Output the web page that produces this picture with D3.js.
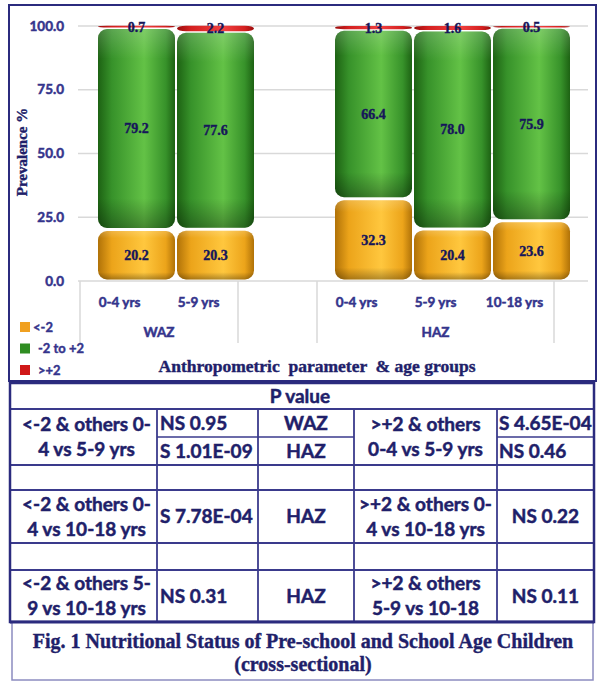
<!DOCTYPE html>
<html>
<head>
<meta charset="utf-8">
<script src="https://cdn.jsdelivr.net/npm/d3@7"></script>
<style>
  body { margin: 0; background: #fff; }
  svg { display: block; }
</style>
</head>
<body>
<div id="chart"></div>
<script>
// chart data
var categories = ["0-4 yrs", "5-9 yrs", "0-4 yrs", "5-9 yrs", "10-18 yrs"];
var groupOf = ["WAZ", "WAZ", "HAZ", "HAZ", "HAZ"];
var below2 = [20.2, 20.3, 32.3, 20.4, 23.6];
var normal = [79.2, 77.6, 66.4, 78.0, 75.9];
var above2 = [0.7, 2.2, 1.3, 1.6, 0.5];
var seriesNames = ["<-2", "-2 to +2", ">+2"];
var yTicks = [0, 25, 50, 75, 100];

// p value table
var compLeft = [["<-2 & others 0-", "4 vs 5-9 yrs"], ["<-2 & others 0-", "4 vs 10-18 yrs"], ["<-2 & others 5-", "9 vs 10-18 yrs"]];
var pLeft = [["NS 0.95", "S 1.01E-09"], ["S 7.78E-04"], ["NS 0.31"]];
var paramCol = [["WAZ", "HAZ"], ["HAZ"], ["HAZ"]];
var compRight = [[">+2 & others", "0-4 vs 5-9 yrs"], [">+2 & others 0-", "4 vs 10-18 yrs"], [">+2 & others", "5-9 vs 10-18"]];
var pRight = [["S 4.65E-04", "NS 0.46"], ["NS 0.22"], ["NS 0.11"]];

var W = 603, H = 682;
var navy = "#2b2b7e", textNavy = "#1f1f6a";
var sans = "Lato, 'Open Sans', sans-serif";
var serif = "'Liberation Serif', 'DejaVu Serif', serif";

var svg = d3.select("#chart").append("svg")
    .attr("width", W).attr("height", H);

// gradients for cylinder look
var defs = svg.append("defs");
function cyl(id, dark, mid, light) {
  var g = defs.append("linearGradient").attr("id", id)
      .attr("x1", "0%").attr("x2", "100%").attr("y1", "0%").attr("y2", "0%");
  g.append("stop").attr("offset", "0%").attr("stop-color", dark);
  g.append("stop").attr("offset", "18%").attr("stop-color", mid);
  g.append("stop").attr("offset", "60%").attr("stop-color", light);
  g.append("stop").attr("offset", "88%").attr("stop-color", mid);
  g.append("stop").attr("offset", "100%").attr("stop-color", dark);
}
cyl("g0", "#b07208", "#eca41a", "#ffc73e");
cyl("g1", "#1d6213", "#37922a", "#63c246");
cyl("g2", "#9a0c0c", "#d42020", "#f04040");
var shade = defs.append("linearGradient").attr("id", "shade")
    .attr("x1", "0%").attr("x2", "0%").attr("y1", "0%").attr("y2", "100%");
shade.append("stop").attr("offset", "0%").attr("stop-color", "#fff").attr("stop-opacity", 0.18);
shade.append("stop").attr("offset", "15%").attr("stop-color", "#fff").attr("stop-opacity", 0);
shade.append("stop").attr("offset", "85%").attr("stop-color", "#000").attr("stop-opacity", 0);
shade.append("stop").attr("offset", "100%").attr("stop-color", "#000").attr("stop-opacity", 0.3);

// chart frame
svg.append("rect").attr("x", 9).attr("y", 5).attr("width", 587).attr("height", 376)
    .attr("fill", "#fff").attr("stroke", navy).attr("stroke-width", 2);

// scales
var slots = ["WAZ|0-4 yrs", "WAZ|5-9 yrs", "gap", "HAZ|0-4 yrs", "HAZ|5-9 yrs", "HAZ|10-18 yrs"];
var keys = categories.map(function(c, i) { return groupOf[i] + "|" + c; });
var x = d3.scaleBand().domain(slots).range([80, 554]).padding(0);
var y = d3.scaleLinear().domain([0, 100]).range([281, 26]);
var depth = 17;

// heavier text, the source is a blurry bold export
function heavy(sel, col, w) {
  return sel.attr("fill", col).attr("stroke", col).attr("stroke-width", w || 0.5)
      .attr("paint-order", "stroke");
}

// gridlines and y ticks
var grid = svg.append("g");
grid.selectAll("line").data(yTicks).enter().append("line")
    .attr("x1", 78).attr("x2", 588)
    .attr("y1", function(d) { return y(d); }).attr("y2", function(d) { return y(d); })
    .attr("stroke", "#d9d9d9").attr("stroke-width", 1.5);
heavy(grid.selectAll("text").data(yTicks).enter().append("text")
    .attr("x", 64).attr("y", function(d) { return y(d); })
    .attr("dy", "0.35em").attr("text-anchor", "end")
    .attr("font-family", sans).attr("font-weight", "bold").attr("font-size", 13.5)
    .text(function(d) { return d3.format(".1f")(d); }), "#34348c");

// category group separators
var seps = [80, x("gap"), x("HAZ|0-4 yrs"), 554];
svg.append("g").selectAll("line").data(seps).enter().append("line")
    .attr("x1", function(d) { return d; }).attr("x2", function(d) { return d; })
    .attr("y1", 281).attr("y2", 343)
    .attr("stroke", "#d9d9d9").attr("stroke-width", 1.5);

// stacked data
var rows = categories.map(function(c, i) {
  return { key: keys[i], s0: below2[i], s1: normal[i], s2: above2[i] };
});
var stack = d3.stack().keys(["s0", "s1", "s2"]);
var stacked = stack(rows);

var bars = svg.append("g");
stacked.forEach(function(layer, li) {
  var g = bars.append("g");
  layer.forEach(function(d) {
    var x0 = x(d.data.key) + depth;
    var bw = x.bandwidth();
    var top = y(d[1]), bot = y(d[0]);
    var h = bot - top;
    var inset = li === 2 ? 0 : 1.5;
    var r = li === 2 ? Math.max(1, h / 2) : 9;
    g.append("rect")
        .attr("x", x0 + 1).attr("y", top + inset)
        .attr("width", bw - 2).attr("height", Math.max(1.5, h - 2 * inset))
        .attr("rx", 9).attr("ry", r)
        .attr("fill", "url(#g" + li + ")");
    if (li < 2) {
      g.append("rect")
          .attr("x", x0 + 1).attr("y", top + inset)
          .attr("width", bw - 2).attr("height", h - 2 * inset)
          .attr("rx", 9).attr("ry", r)
          .attr("fill", "url(#shade)");
    }
    heavy(g.append("text")
        .attr("x", x0 + bw / 2).attr("y", (top + bot) / 2)
        .attr("dy", "0.35em").attr("text-anchor", "middle")
        .attr("font-family", serif).attr("font-weight", "bold").attr("font-size", 14)
        .text(d3.format(".1f")(d[1] - d[0])), "#16165a", 0.4);
  });
});

// category labels
heavy(svg.append("g").selectAll("text").data(rows).enter().append("text")
    .attr("x", function(d) { return x(d.key) + x.bandwidth() / 2; })
    .attr("y", 302).attr("dy", "0.35em").attr("text-anchor", "middle")
    .attr("font-family", sans).attr("font-weight", "bold").attr("font-size", 13.5)
    .text(function(d, i) { return categories[i]; }), "#34348c");

var groupNames = ["WAZ", "HAZ"];
heavy(svg.append("g").selectAll("text").data(groupNames).enter().append("text")
    .attr("x", function(gname) {
      var ks = keys.filter(function(k, i) { return groupOf[i] === gname; });
      return (x(ks[0]) + x(ks[ks.length - 1]) + x.bandwidth()) / 2;
    })
    .attr("y", 332).attr("dy", "0.35em").attr("text-anchor", "middle")
    .attr("font-family", sans).attr("font-weight", "bold").attr("font-size", 13.5)
    .text(function(d) { return d; }), "#34348c");

// legend
var legColors = ["#f0a020", "#2f8d22", "#d01818"];
var leg = svg.append("g").selectAll("g").data(seriesNames).enter().append("g")
    .attr("transform", function(d, i) { return "translate(20," + (327 + i * 21.5) + ")"; });
leg.append("rect").attr("x", 0).attr("y", -5).attr("width", 10).attr("height", 10)
    .attr("fill", function(d, i) { return legColors[i]; });
heavy(leg.append("text").attr("x", function(d, i) { return i === 0 ? 13 : 18; }).attr("dy", "0.35em")
    .attr("font-family", sans).attr("font-weight", "bold").attr("font-size", 13)
    .text(function(d) { return d; }), "#34348c", 0.4);

// axis titles
heavy(svg.append("text").attr("x", 317).attr("y", 366).attr("dy", "0.35em")
    .attr("text-anchor", "middle").attr("xml:space", "preserve")
    .attr("font-family", serif).attr("font-weight", "bold").attr("font-size", 17.5)
    .text("Anthropometric  parameter  & age groups"), textNavy, 0.4);
heavy(svg.append("text").attr("transform", "translate(22,152) rotate(-90)")
    .attr("dy", "0.35em").attr("text-anchor", "middle")
    .attr("font-family", serif).attr("font-weight", "bold").attr("font-size", 15)
    .text("Prevalence %"), textNavy, 0.4);

// ---- p value table ----
var colX = [10, 157, 258, 354, 497, 594];
var rowY = [383, 409, 437, 465, 490, 543, 570, 622];
var tbl = svg.append("g");
var lineCol = "#3a3a8c";
tbl.append("rect").attr("x", colX[0]).attr("y", rowY[0])
    .attr("width", colX[5] - colX[0]).attr("height", rowY[7] - rowY[0])
    .attr("fill", "#fff");
// horizontal lines
[1, 3, 4, 5, 6].forEach(function(r) {
  tbl.append("line").attr("x1", colX[0]).attr("x2", colX[5])
      .attr("y1", rowY[r]).attr("y2", rowY[r])
      .attr("stroke", lineCol).attr("stroke-width", 1.8);
});
[[1, 3], [4, 5]].forEach(function(c) {
  tbl.append("line").attr("x1", colX[c[0]]).attr("x2", colX[c[1]])
      .attr("y1", rowY[2]).attr("y2", rowY[2])
      .attr("stroke", lineCol).attr("stroke-width", 1.5);
});
// vertical lines
[1, 2, 3, 4].forEach(function(c) {
  tbl.append("line").attr("x1", colX[c]).attr("x2", colX[c])
      .attr("y1", rowY[1]).attr("y2", rowY[7])
      .attr("stroke", lineCol).attr("stroke-width", 1.8);
});
tbl.append("rect").attr("x", colX[0]).attr("y", rowY[0])
    .attr("width", colX[5] - colX[0]).attr("height", rowY[7] - rowY[0])
    .attr("fill", "none").attr("stroke", navy).attr("stroke-width", 2.5);

function cellText(tx, ty, str, anchor) {
  heavy(tbl.append("text").attr("x", tx).attr("y", ty).attr("dy", "0.35em")
      .attr("text-anchor", anchor || "middle")
      .attr("font-family", sans).attr("font-weight", "bold").attr("font-size", 19)
      .text(str), textNavy, 0.5);
}
cellText(300, 396, "P value");

var blocks = [[1, 3], [4, 5], [6, 7]];
blocks.forEach(function(b, i) {
  var yt = rowY[b[0]], yb = rowY[b[1]], mid = (yt + yb) / 2;
  var two = [mid - 12.5, mid + 12.5];
  compLeft[i].forEach(function(s, j) { cellText((colX[0] + colX[1]) / 2 + 3, two[j], s); });
  compRight[i].forEach(function(s, j) { cellText((colX[3] + colX[4]) / 2, two[j], s); });
  var subs = pLeft[i].length === 2 ? [(yt + rowY[2]) / 2, (rowY[2] + yb) / 2] : [mid];
  pLeft[i].forEach(function(s, j) { cellText(colX[1] + 3, subs[j], s, "start"); });
  paramCol[i].forEach(function(s, j) { cellText((colX[2] + colX[3]) / 2, subs[j], s); });
  pRight[i].forEach(function(s, j) {
    if (pRight[i].length === 2) cellText(colX[4] + 2, subs[j], s, "start");
    else cellText((colX[4] + colX[5]) / 2, subs[j], s);
  });
});

// caption box
svg.append("rect").attr("x", 12).attr("y", 622).attr("width", 581).attr("height", 58)
    .attr("fill", "#fff").attr("stroke", "#8c8cc0").attr("stroke-width", 1.5);
svg.append("line").attr("x1", 10).attr("x2", 594).attr("y1", 622).attr("y2", 622)
    .attr("stroke", navy).attr("stroke-width", 3);
var cap = ["Fig. 1 Nutritional Status of Pre-school and School Age Children", "(cross-sectional)"];
heavy(svg.append("g").selectAll("text").data(cap).enter().append("text")
    .attr("x", 303).attr("y", function(d, i) { return 641 + i * 23; })
    .attr("dy", "0.35em").attr("text-anchor", "middle")
    .attr("font-family", serif).attr("font-weight", "bold").attr("font-size", 20)
    .text(function(d) { return d; }), textNavy, 0.4);
</script>
</body>
</html>
